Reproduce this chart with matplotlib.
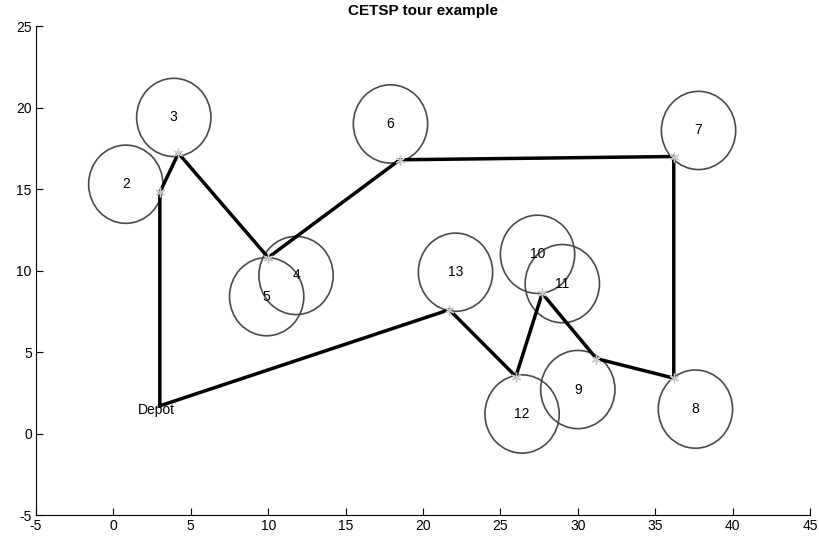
import numpy as np
import matplotlib.pyplot as plt
from matplotlib.patches import Circle

plt.rcParams['font.family'] = ['Liberation Sans', 'DejaVu Sans']
plt.rcParams['axes.unicode_minus'] = False

# circle centres (data units), radius shared
circle_ids = ['2', '3', '4', '5', '6', '7', '8', '9', '10', '11', '12', '13']
circle_x = [0.8, 3.9, 11.8, 9.9, 17.9, 37.8, 37.6, 30.0, 27.4, 29.0, 26.4, 22.1]
circle_y = [15.3, 19.4, 9.7, 8.4, 19.0, 18.6, 1.5, 2.7, 11.0, 9.2, 1.2, 9.9]
radius = 2.4

depot = (3.0, 1.7)

# tour visiting points, starting and ending at depot
tour_x = [3.0, 3.0, 4.2, 10.0, 18.5, 36.2, 36.2, 31.2, 27.7, 26.0, 21.7, 3.0]
tour_y = [1.7, 14.8, 17.2, 10.8, 16.8, 17.0, 3.4, 4.6, 8.6, 3.5, 7.6, 1.7]

fig = plt.figure(figsize=(8.2, 5.45), dpi=100)
ax = fig.add_axes([0.0439, 0.055, 0.9439, 0.897])

for cid, cx, cy in zip(circle_ids, circle_x, circle_y):
  ax.add_patch(Circle((cx, cy), radius, fill=False, ec='#4a4a4a', lw=1.2))
  ax.text(cx, cy, cid, ha='center', va='center', fontsize=10)

ax.plot(tour_x, tour_y, c='black', lw=2.5, zorder=3)
ax.plot(tour_x[1:-1], tour_y[1:-1], ls='none', marker=(6, 2, 0), ms=7,
        mew=1.0, c='#c8c8c8', zorder=4)
ax.text(depot[0] - 0.2, depot[1] - 0.25, 'Depot', ha='center', va='center', fontsize=10)

ax.set_xlim(-5, 45)
ax.set_ylim(-5, 25)
ax.set_xticks(np.arange(-5, 46, 5))
ax.set_yticks(np.arange(-5, 26, 5))
ax.tick_params(direction='in', length=5, width=0.8, labelsize=10, pad=3)
for s in ['top', 'right']:
  ax.spines[s].set_visible(False)
ax.set_title('CETSP tour example', fontsize=11, fontweight='bold', pad=8)

fig.savefig('out.png', dpi=100)
